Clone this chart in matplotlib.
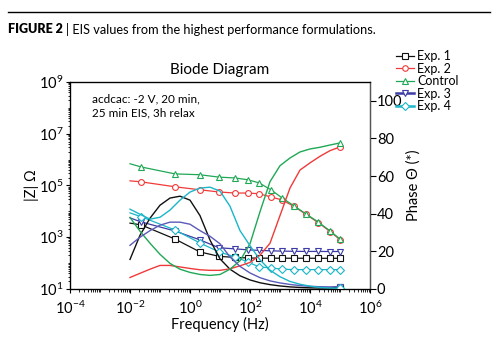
import numpy as np
import matplotlib
matplotlib.use("Agg")
import matplotlib.pyplot as plt
from matplotlib.lines import Line2D
from matplotlib.ticker import LogLocator, NullFormatter, FixedLocator

plt.rcParams['font.family'] = ['Lato', 'DejaVu Sans']
plt.rcParams['mathtext.fontset'] = 'custom'
plt.rcParams['mathtext.rm'] = 'Lato'
plt.rcParams['mathtext.it'] = 'Lato:italic'

# impedance sweep: first point has no marker
freq_z = [0.01, 0.0234, 0.316, 2.14, 9.3, 31.6, 85, 200, 500, 1175,
          2950, 7400, 18600, 46800, 100000]
z_exp1 = [3500, 3000, 850, 270, 182, 166, 158, 155, 155, 154, 154, 154, 153, 153, 153]
z_exp2 = [1.51e5, 1.38e5, 8.9e4, 6.8e4, 5.6e4, 5.1e4, 5.1e4, 4.8e4, 3.6e4, 2.75e4,
          1.55e4, 7.6e3, 3.7e3, 1.66e3, 8.1e2]
z_control = [6.9e5, 5.2e5, 2.8e5, 2.6e5, 2.1e5, 1.95e5, 1.66e5, 1.26e5, 6.8e4, 3.3e4,
             1.62e4, 7.9e3, 3.9e3, 1.74e3, 8.5e2]
z_exp3 = [5600, 3900, 1740, 790, 390, 355, 324, 310, 298, 290, 285, 282, 282, 280, 280]
z_exp4 = [8700, 6200, 1900, 600, 270, 174, 110, 71, 65, 58, 56, 56, 56, 56, 56]

# phase sweep
freq_ph = [0.01, 0.0215, 0.0464, 0.1, 0.215, 0.464, 1, 2.15, 4.64, 10, 21.5, 46.4,
           100, 215, 464, 1000, 2150, 4640, 1e4, 2.15e4, 4.64e4, 1e5]
ph_exp1 = [15.7, 28.5, 37.6, 44.5, 48.3, 49.3, 47.2, 39, 26, 16, 10.5, 7,
           4.8, 3.3, 2.3, 1.6, 1.1, 0.8, 0.6, 0.5, 0.5, 0.8]
ph_exp2 = [6.1, 8.3, 10.5, 12.5, 12.5, 11.7, 10.9, 10.2, 9.9, 9.9, 10.7, 12.3,
           14.1, 17.9, 24.3, 39, 53.6, 63.2, 67, 70.5, 73.5, 75.5]
ph_control = [38, 30.7, 24.3, 18.4, 13.6, 10.5, 8.8, 7.7, 7.2, 7.7, 10.5, 15,
              24, 41, 57, 65.5, 69.6, 72.8, 74.4, 75.3, 76.5, 77.6]
ph_exp3 = [23.2, 27.5, 31, 33.9, 35.5, 35.5, 34.4, 31, 28, 24, 17, 12,
           8.5, 6, 4.3, 3.2, 2.4, 1.8, 1.4, 1.2, 1.1, 1.3]
ph_exp4 = [42.4, 39.7, 37.1, 38.1, 41.9, 47.2, 51.5, 53.6, 54.1, 52, 44, 31,
           23, 15.5, 10, 6.5, 4, 2.5, 1.5, 0.8, 0.5, 0.4]

labels = ['Exp. 1', 'Exp. 2', 'Control', 'Exp. 3', 'Exp. 4']
colors = ['#111111', '#f03a3a', '#1fa855', '#3c3ca6', '#1bb6c8']
phase_colors = ['#111111', '#f03a3a', '#1fa855', '#5a5ab8', '#1bb6c8']
markers = ['s', 'o', '^', 'v', 'D']
z_series = [z_exp1, z_exp2, z_control, z_exp3, z_exp4]
ph_series = [ph_exp1, ph_exp2, ph_control, ph_exp3, ph_exp4]

fig = plt.figure(figsize=(5, 3.44), dpi=100)
ax = fig.add_axes([0.14, 0.16, 0.60, 0.6017])
ax2 = ax.twinx()

for z, c, m in zip(z_series, colors, markers):
    ax.plot(freq_z, z, color=c, lw=0.9, marker=m, ms=4.2 if m != 'D' else 3.6,
            mfc='white', mec=c, mew=0.8, markevery=list(range(1, len(freq_z))))

# only the last phase point carries a marker
for ph, c, m in zip(ph_series, phase_colors, markers):
    ax2.plot(freq_ph, ph, color=c, lw=1.0, marker=m, ms=4.2 if m != 'D' else 3.6,
             mfc='white', mec=c, mew=0.8, markevery=[len(freq_ph) - 1])

ax.set_xscale('log')
ax.set_yscale('log')
ax.set_xlim(1e-4, 1e6)
ax.set_ylim(1e1, 1e9)
ax2.set_ylim(0, 110)

ax.xaxis.set_major_locator(FixedLocator([1e-4, 1e-2, 1, 1e2, 1e4, 1e6]))
ax.yaxis.set_major_locator(FixedLocator([1e1, 1e3, 1e5, 1e7, 1e9]))
for axis in (ax.xaxis, ax.yaxis):
    axis.set_minor_locator(LogLocator(base=10, subs=np.arange(1, 10), numticks=100))
    axis.set_minor_formatter(NullFormatter())
ax.tick_params(which='major', direction='out', length=3, width=0.8, labelsize=10.5, pad=1.5)
ax.tick_params(axis='x', which='major', pad=4.5)
ax.tick_params(which='minor', direction='out', length=1.8, width=0.6)
ax.tick_params(axis='y', which='both', right=False)
ax2.set_yticks([0, 20, 40, 60, 80, 100])
ax2.tick_params(direction='out', length=4, width=0.8, labelsize=10.5, pad=1)
ax2.spines['right'].set_color('#555555')
for s in ax.spines.values():
    s.set_linewidth(0.9)

ax.set_xlabel('Frequency (Hz)', fontsize=10.5, labelpad=0)
ax.set_ylabel('|Z| Ω', fontsize=10.5, labelpad=0)
ax2.set_ylabel('Phase Θ (*)', fontsize=10.5, labelpad=3)
ax.set_title('Biode Diagram', fontsize=11, pad=6)

ax.text(0.073, 0.945, 'acdcac: -2 V, 20 min,\n25 min EIS, 3h relax',
        transform=ax.transAxes, fontsize=8.5, va='top', linespacing=1.3)

handles = []
for i, (c, m) in enumerate(zip(colors, markers)):
    handles.append(Line2D([], [], color=c, lw=0.9 if i < 3 else 1.8, marker=m,
                          ms=4, mfc='white', mec=c, mew=0.8))
fig.legend(handles, labels, loc='upper left', bbox_to_anchor=(0.792, 0.855),
           frameon=False, fontsize=9, handlelength=1.4, handletextpad=0.3,
           labelspacing=0.05, borderpad=0, borderaxespad=0)

# caption with rule above
fig.add_artist(Line2D([0.016, 0.98], [1 - 12 / 344, 1 - 12 / 344],
                      color='black', lw=1))
tag = fig.text(0.016, 1 - 29 / 344, 'FIGURE 2', fontsize=9, fontweight='heavy',
               va='center')
fig.add_artist(matplotlib.text.Annotation(
    '| EIS values from the highest performance formulations.',
    xy=(1, 0.5), xycoords=tag, xytext=(2.5, 0), textcoords='offset points',
    fontsize=9.2, va='center', ha='left'))

fig.savefig('out.png', dpi=100)
